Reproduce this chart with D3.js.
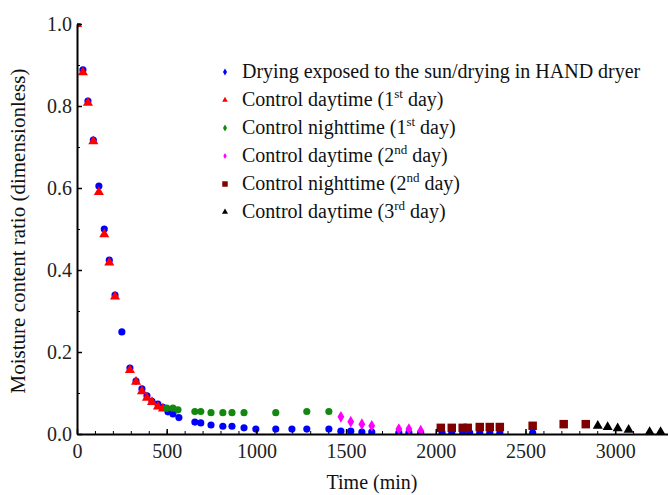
<!DOCTYPE html>
<html>
<head>
<meta charset="utf-8">
<script src="https://cdn.jsdelivr.net/npm/d3@7"></script>
<style>
  body { margin: 0; background: #fff; }
  svg { font-family: "Liberation Serif", "Times New Roman", serif; }
  .axis path, .axis line { stroke: #000; }
  .axis text { font-size: 20px; fill: #222; font-family: "Liberation Serif", serif; }
</style>
</head>
<body>
<div class="canvas"></div>
<script>
// time (min) and moisture ratio
const sunTime = [0, 33, 61, 91, 122, 152, 180, 212, 250, 295, 329, 362, 390, 418, 451, 479, 507, 535, 568,
  657, 690, 747, 813, 864, 931, 997, 1108, 1198, 1281, 1404, 1471, 1526, 1588, 1643, 1794, 1850, 1916,
  2035, 2089, 2150, 2189, 2245, 2301, 2357, 2540];
const sunMR = [1.0, 0.888, 0.812, 0.717, 0.605, 0.5, 0.424, 0.339, 0.249, 0.161, 0.129, 0.11, 0.093, 0.08, 0.073, 0.065, 0.054, 0.049, 0.04,
  0.029, 0.027, 0.022, 0.019, 0.019, 0.015, 0.012, 0.012, 0.012, 0.012, 0.012, 0.007, 0.007, 0.005, 0.005, 0.003, 0.003, 0.003,
  0.003, 0.003, 0.003, 0.003, 0.003, 0.003, 0.003, 0.003];

const day1Time = [0, 33, 61, 91, 122, 152, 180, 212, 295, 329, 362, 390, 418, 451, 479];
const day1MR = [1.0, 0.882, 0.808, 0.714, 0.59, 0.487, 0.418, 0.335, 0.156, 0.127, 0.104, 0.088, 0.078, 0.067, 0.062];

const night1Time = [501, 535, 563, 657, 690, 747, 813, 864, 931, 1108, 1281, 1404];
const night1MR = [0.063, 0.063, 0.059, 0.055, 0.055, 0.052, 0.052, 0.052, 0.052, 0.052, 0.055, 0.055];

const day2Time = [1471, 1526, 1588, 1643, 1794, 1850, 1916];
const day2MR = [0.042, 0.03, 0.024, 0.02, 0.012, 0.012, 0.008];

const night2Time = [2028, 2089, 2150, 2178, 2245, 2301, 2357, 2540, 2713, 2836];
const night2MR = [0.015, 0.015, 0.015, 0.015, 0.017, 0.017, 0.017, 0.02, 0.024, 0.024];

const day3Time = [2903, 2958, 3014, 3075, 3192, 3253];
const day3MR = [0.02, 0.017, 0.014, 0.01, 0.005, 0.005];

const seriesNames = [
  ["Drying exposed to the sun/drying in HAND dryer", "", ""],
  ["Control daytime (1", "st", " day)"],
  ["Control nighttime (1", "st", " day)"],
  ["Control daytime (2", "nd", " day)"],
  ["Control nighttime (2", "nd", " day)"],
  ["Control daytime (3", "rd", " day)"],
];
const xTicks = [0, 500, 1000, 1500, 2000, 2500, 3000];
const yTicks = [0.0, 0.2, 0.4, 0.6, 0.8, 1.0];

const series = [
  { t: sunTime, mr: sunMR, color: "#0000ff", shape: d3.symbolCircle, size: 40, legShape: d3.symbolDiamond, legSize: 14 },
  { t: day1Time, mr: day1MR, color: "#ff0000", shape: d3.symbolTriangle, size: 44, legShape: d3.symbolTriangle, legSize: 14 },
  { t: night1Time, mr: night1MR, color: "#13870f", shape: d3.symbolCircle, size: 40, legShape: d3.symbolDiamond, legSize: 14 },
  { t: day2Time, mr: day2MR, color: "#ff00ff", shape: d3.symbolDiamond, size: 40, legShape: d3.symbolDiamond, legSize: 10 },
  { t: night2Time, mr: night2MR, color: "#800000", shape: d3.symbolSquare, size: 72, legShape: d3.symbolSquare, legSize: 30 },
  { t: day3Time, mr: day3MR, color: "#000000", shape: d3.symbolTriangle, size: 44, legShape: d3.symbolTriangle, legSize: 16 },
];

const W = 668, H = 495;
const svg = d3.select(".canvas").append("svg").attr("width", W).attr("height", H);

const x = d3.scaleLinear().domain([0, 3300]).range([77, 669]);
const y = d3.scaleLinear().domain([0, 1]).range([434, 24]);

svg.append("clipPath").attr("id", "plot-clip")
  .append("rect").attr("x", 77).attr("y", 23).attr("width", W - 77).attr("height", 434 - 23);

// minor ticks first
svg.append("g").attr("class", "axis").attr("transform", "translate(0,434)")
  .call(d3.axisBottom(x).tickValues(d3.range(0, 3301, 100)).tickSize(-3).tickFormat(""))
  .call((g) => g.select(".domain").remove());
svg.append("g").attr("class", "axis").attr("transform", "translate(77,0)")
  .call(d3.axisLeft(y).tickValues(d3.range(0, 1.01, 0.1)).tickSize(-3).tickFormat(""))
  .call((g) => g.select(".domain").remove());

// points
const plot = svg.append("g").attr("clip-path", "url(#plot-clip)");
series.forEach((s) => {
  plot.append("g")
    .selectAll("path")
    .data(s.t.map((t, i) => [t, s.mr[i]]))
    .join("path")
    .attr("d", d3.symbol(s.shape, s.size))
    .attr("transform", (d) => `translate(${x(d[0])},${y(d[1])})`)
    .attr("fill", s.color);
});

const xAxis = svg.append("g").attr("class", "axis").attr("transform", "translate(0,434)")
  .call(d3.axisBottom(x).tickValues(xTicks).tickSize(-5).tickSizeOuter(0).tickPadding(10).tickFormat(d3.format("d")));
xAxis.select(".domain").attr("stroke-width", 2);
xAxis.selectAll(".tick line").attr("stroke-width", 1.5);

const yAxis = svg.append("g").attr("class", "axis").attr("transform", "translate(77,0)")
  .call(d3.axisLeft(y).tickValues(yTicks).tickSize(-5).tickSizeOuter(0).tickPadding(5).tickFormat(d3.format(".1f")));
yAxis.select(".domain").attr("stroke-width", 2);
yAxis.selectAll(".tick line").attr("stroke-width", 1.5);

// legend
const legend = svg.append("g").attr("transform", "translate(225,72)");
series.forEach((s, i) => {
  const row = legend.append("g").attr("transform", `translate(0,${i * 28})`);
  row.append("path").attr("d", d3.symbol(s.legShape, s.legSize)).attr("fill", s.color);
  const txt = row.append("text").attr("x", 17).attr("y", 6)
    .attr("font-size", 20).attr("fill", "#111");
  txt.append("tspan").text(seriesNames[i][0]);
  if (seriesNames[i][1]) {
    txt.append("tspan").attr("font-size", 13).attr("dy", -8).text(seriesNames[i][1]);
    txt.append("tspan").attr("dy", 8).text(seriesNames[i][2]);
  }
});

svg.append("text")
  .attr("transform", "translate(25,231) rotate(-90)")
  .attr("text-anchor", "middle")
  .attr("font-size", 21)
  .attr("fill", "#111")
  .text("Moisture content ratio (dimensionless)");

svg.append("text")
  .attr("x", 372).attr("y", 489)
  .attr("text-anchor", "middle")
  .attr("font-size", 20)
  .attr("fill", "#111")
  .text("Time (min)");
</script>
</body>
</html>
